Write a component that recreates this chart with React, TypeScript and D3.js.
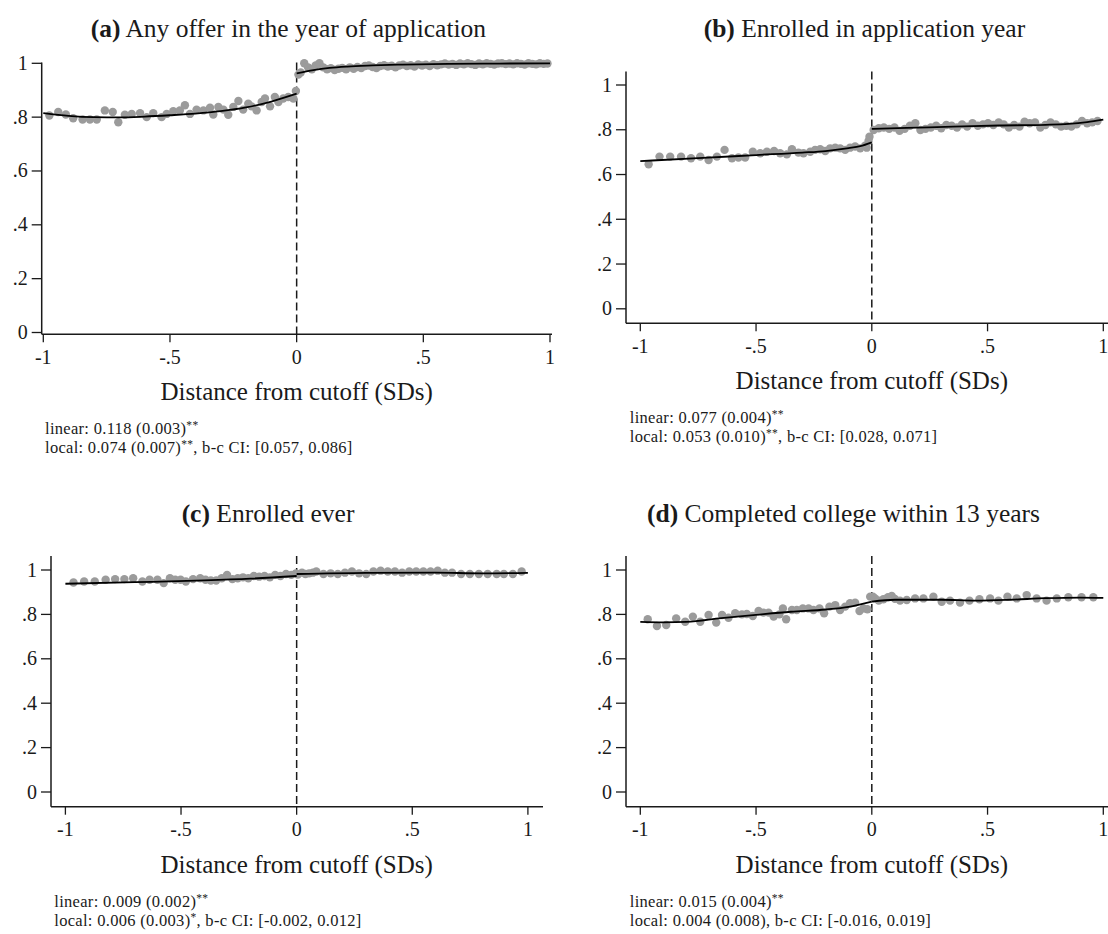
import React from "react";
import * as d3 from "d3";

// ---------- tick labels ----------
const xTickValues = [-1, -0.5, 0, 0.5, 1];
const xTickLabels = ["-1", "-.5", "0", ".5", "1"];
const yTickValues = [0, 0.2, 0.4, 0.6, 0.8, 1];
const yTickLabels = ["0", ".2", ".4", ".6", ".8", "1"];
const xAxisTitle = "Distance from cutoff (SDs)";

// ---------- panel (a) ----------
const aTitleLetter = "(a)";
const aTitle = " Any offer in the year of application";
const aLinear = ["linear: 0.118 (0.003)", "**", ""];
const aLocal = ["local: 0.074 (0.007)", "**", ", b-c CI: [0.057, 0.086]"];
const aLeftBinX = [-0.976,-0.941,-0.911,-0.882,-0.845,-0.816,-0.789,-0.757,-0.726,-0.704,-0.678,-0.651,-0.618,-0.592,-0.566,-0.533,-0.513,-0.487,-0.461,-0.441,-0.421,-0.395,-0.368,-0.342,-0.329,-0.309,-0.289,-0.270,-0.250,-0.230,-0.211,-0.191,-0.178,-0.158,-0.138,-0.125,-0.105,-0.086,-0.072,-0.053,-0.033,-0.013,-0.003];
const aLeftBinY = [0.806,0.819,0.810,0.796,0.791,0.791,0.791,0.825,0.819,0.781,0.809,0.812,0.815,0.800,0.815,0.800,0.812,0.822,0.825,0.844,0.812,0.828,0.825,0.835,0.810,0.838,0.828,0.809,0.838,0.860,0.828,0.850,0.840,0.825,0.856,0.869,0.840,0.875,0.856,0.869,0.875,0.869,0.897];
const aRightBinX = [0.007,0.016,0.030,0.045,0.060,0.075,0.090,0.105,0.120,0.135,0.150,0.165,0.180,0.195,0.210,0.225,0.240,0.255,0.270,0.285,0.300,0.315,0.330,0.345,0.360,0.375,0.390,0.405,0.420,0.435,0.450,0.465,0.480,0.495,0.510,0.525,0.540,0.555,0.570,0.585,0.600,0.615,0.630,0.645,0.660,0.675,0.690,0.705,0.720,0.735,0.750,0.765,0.780,0.795,0.810,0.825,0.840,0.855,0.870,0.885,0.900,0.915,0.930,0.945,0.960,0.975,0.990];
const aRightBinY = [0.958,0.966,1.000,0.985,0.978,0.992,1.000,0.985,0.978,0.982,0.975,0.980,0.983,0.978,0.985,0.980,0.986,0.982,0.990,0.992,0.986,0.982,0.990,0.993,0.988,0.991,0.985,0.992,0.995,0.990,0.993,0.988,0.996,0.992,0.995,0.990,0.997,0.993,0.996,0.999,0.995,0.998,0.994,0.999,0.996,1.000,0.997,0.994,0.999,0.996,1.000,0.998,0.995,0.999,1.000,0.997,0.999,0.996,1.000,0.998,0.995,1.000,0.998,0.996,1.000,0.998,0.999];
const aFitLeftX = [-1,-0.9,-0.8,-0.7,-0.6,-0.5,-0.4,-0.3,-0.2,-0.1,0];
const aFitLeftY = [0.815,0.805,0.800,0.799,0.802,0.807,0.813,0.822,0.836,0.858,0.887];
const aFitRightX = [0,0.066,0.13,0.2,0.3,0.4,0.6,0.8,1.0];
const aFitRightY = [0.963,0.975,0.983,0.988,0.992,0.995,0.998,0.999,1.0];

// ---------- panel (b) ----------
const bTitleLetter = "(b)";
const bTitle = " Enrolled in application year";
const bLinear = ["linear: 0.077 (0.004)", "**", ""];
const bLocal = ["local: 0.053 (0.010)", "**", ", b-c CI: [0.028, 0.071]"];
const bLeftBinX = [-0.964,-0.917,-0.871,-0.824,-0.781,-0.741,-0.705,-0.669,-0.636,-0.604,-0.576,-0.547,-0.514,-0.482,-0.453,-0.422,-0.396,-0.367,-0.345,-0.317,-0.295,-0.266,-0.245,-0.223,-0.201,-0.180,-0.158,-0.137,-0.115,-0.094,-0.072,-0.050,-0.029,-0.022,-0.014,-0.010];
const bLeftBinY = [0.646,0.680,0.680,0.680,0.673,0.680,0.665,0.680,0.710,0.673,0.676,0.676,0.702,0.695,0.702,0.705,0.695,0.690,0.713,0.698,0.695,0.702,0.710,0.713,0.705,0.717,0.720,0.717,0.710,0.720,0.725,0.717,0.729,0.720,0.750,0.769];
const bRightBinX = [0.008,0.030,0.052,0.075,0.098,0.120,0.142,0.165,0.188,0.210,0.232,0.255,0.278,0.300,0.322,0.345,0.368,0.390,0.412,0.435,0.458,0.480,0.502,0.525,0.548,0.570,0.592,0.615,0.638,0.660,0.682,0.705,0.728,0.750,0.772,0.795,0.818,0.840,0.862,0.885,0.908,0.930,0.952,0.975];
const bRightBinY = [0.799,0.807,0.810,0.804,0.810,0.795,0.804,0.818,0.829,0.799,0.804,0.810,0.818,0.807,0.821,0.818,0.810,0.824,0.814,0.829,0.818,0.824,0.829,0.821,0.833,0.824,0.810,0.821,0.814,0.836,0.829,0.833,0.810,0.821,0.833,0.824,0.814,0.818,0.814,0.824,0.839,0.829,0.833,0.839];
const bFitLeftX = [-1,-0.75,-0.5,-0.3,-0.2,-0.1,-0.05,0];
const bFitLeftY = [0.660,0.673,0.687,0.698,0.705,0.718,0.727,0.744];
const bFitRightX = [0,0.15,0.35,0.55,0.75,0.85,0.93,1.0];
const bFitRightY = [0.804,0.808,0.814,0.819,0.822,0.826,0.834,0.845];

// ---------- panel (c) ----------
const cTitleLetter = "(c)";
const cTitle = " Enrolled ever";
const cLinear = ["linear: 0.009 (0.002)", "**", ""];
const cLocal = ["local: 0.006 (0.003)", "*", ", b-c CI: [-0.002, 0.012]"];
const cLeftBinX = [-0.965,-0.919,-0.873,-0.826,-0.785,-0.745,-0.707,-0.667,-0.636,-0.602,-0.575,-0.548,-0.525,-0.502,-0.479,-0.448,-0.417,-0.394,-0.371,-0.348,-0.324,-0.301,-0.278,-0.255,-0.232,-0.209,-0.185,-0.162,-0.139,-0.116,-0.093,-0.070,-0.046,-0.023,-0.003];
const cLeftBinY = [0.944,0.948,0.948,0.956,0.959,0.959,0.963,0.948,0.956,0.956,0.941,0.963,0.956,0.956,0.948,0.959,0.963,0.956,0.953,0.953,0.963,0.978,0.959,0.963,0.967,0.963,0.973,0.970,0.973,0.967,0.978,0.973,0.982,0.978,0.985];
const cRightBinX = [0.005,0.023,0.038,0.054,0.070,0.085,0.116,0.147,0.178,0.209,0.239,0.270,0.301,0.332,0.363,0.394,0.425,0.456,0.487,0.517,0.548,0.579,0.610,0.641,0.672,0.711,0.749,0.788,0.826,0.865,0.896,0.935,0.973];
const cRightBinY = [0.980,0.988,0.982,0.985,0.988,0.993,0.982,0.985,0.982,0.988,0.993,0.985,0.982,0.993,0.997,0.993,0.993,0.988,0.993,0.993,0.993,0.993,0.997,0.988,0.988,0.982,0.982,0.982,0.982,0.982,0.982,0.982,0.993];
const cFitLeftX = [-1,-0.7,-0.4,-0.2,0];
const cFitLeftY = [0.938,0.945,0.953,0.961,0.973];
const cFitRightX = [0,0.3,0.6,0.8,1.0];
const cFitRightY = [0.982,0.987,0.988,0.985,0.987];

// ---------- panel (d) ----------
const dTitleLetter = "(d)";
const dTitle = " Completed college within 13 years";
const dLinear = ["linear: 0.015 (0.004)", "**", ""];
const dLocal = ["local: 0.004 (0.008), b-c CI: [-0.016, 0.019]", "", ""];
const dLeftBinX = [-0.968,-0.928,-0.888,-0.845,-0.806,-0.773,-0.741,-0.705,-0.672,-0.647,-0.619,-0.590,-0.561,-0.540,-0.514,-0.489,-0.468,-0.446,-0.424,-0.399,-0.384,-0.370,-0.345,-0.324,-0.298,-0.273,-0.252,-0.226,-0.206,-0.183,-0.158,-0.137,-0.115,-0.094,-0.072,-0.053,-0.036,-0.019,-0.007];
const dLeftBinY = [0.778,0.748,0.752,0.782,0.767,0.790,0.767,0.797,0.763,0.797,0.785,0.805,0.800,0.802,0.793,0.815,0.808,0.808,0.790,0.800,0.827,0.778,0.820,0.820,0.827,0.827,0.820,0.827,0.805,0.835,0.842,0.820,0.835,0.850,0.853,0.815,0.827,0.823,0.880];
const dRightBinX = [0.005,0.014,0.030,0.050,0.070,0.086,0.100,0.122,0.151,0.187,0.223,0.266,0.302,0.338,0.381,0.422,0.465,0.511,0.547,0.586,0.626,0.669,0.712,0.755,0.799,0.849,0.906,0.957];
const dRightBinY = [0.880,0.872,0.862,0.868,0.877,0.883,0.870,0.862,0.865,0.872,0.872,0.880,0.857,0.862,0.853,0.862,0.868,0.872,0.862,0.880,0.872,0.887,0.872,0.862,0.872,0.877,0.877,0.877];
const dFitLeftX = [-1,-0.9,-0.8,-0.65,-0.5,-0.35,-0.2,-0.1,0];
const dFitLeftY = [0.766,0.764,0.766,0.783,0.798,0.812,0.822,0.834,0.858];
const dFitRightX = [0,0.1,0.3,0.45,0.6,0.75,0.9,1.0];
const dFitRightY = [0.858,0.866,0.866,0.862,0.866,0.873,0.876,0.874];

// ---------- layout (pixel geometry, not data) ----------
type Layout = {
  xm1: number; xp1: number; y0: number; y1: number;
  yAxisX: number; yAxisTop: number; xAxisY: number; xAxisRight: number;
  titleX: number; titleY: number; notesX: number;
};
const layoutA: Layout = { xm1: 43.3, xp1: 550, y0: 332.5, y1: 63.3, yAxisX: 41.7, yAxisTop: 62.5, xAxisY: 334.3, xAxisRight: 552, titleX: 288.4, titleY: 37, notesX: 45 };
const layoutB: Layout = { xm1: 640.3, xp1: 1103.3, y0: 308.8, y1: 85, yAxisX: 626, yAxisTop: 71.5, xAxisY: 323.3, xAxisRight: 1118, titleX: 864.4, titleY: 37, notesX: 629.8 };
const layoutC: Layout = { xm1: 65.4, xp1: 527.9, y0: 792, y1: 570, yAxisX: 51, yAxisTop: 556, xAxisY: 806.7, xAxisRight: 543, titleX: 268, titleY: 521.5, notesX: 54.3 };
const layoutD: Layout = { xm1: 640.3, xp1: 1103.3, y0: 792, y1: 570, yAxisX: 626, yAxisTop: 556, xAxisY: 806.7, xAxisRight: 1118, titleX: 843.5, titleY: 521.5, notesX: 629.8 };

const FONT = "'Liberation Serif', 'Times New Roman', Times, serif";
const POINT = "#9b9b9b";
const INK = "#1a1a1a";

function zip(xs: number[], ys: number[]): [number, number][] {
  return xs.map((v, i) => [v, ys[i]] as [number, number]);
}

type PanelProps = {
  L: Layout;
  letter: string;
  title: string;
  linear: string[];
  local: string[];
  leftX: number[]; leftY: number[]; rightX: number[]; rightY: number[];
  fitLX: number[]; fitLY: number[]; fitRX: number[]; fitRY: number[];
};

function NoteLine({ x, y, parts }: { x: number; y: number; parts: string[] }) {
  return (
    <text x={x} y={y} fontFamily={FONT} fontSize={16.5} letterSpacing={0.3} fill={INK}>
      <tspan>{parts[0]}</tspan>
      {parts[1] ? (
        <tspan dy={-5} fontSize={11.5}>{parts[1]}</tspan>
      ) : null}
      {parts[1] ? <tspan dy={5}>{parts[2]}</tspan> : null}
    </text>
  );
}

function Panel(p: PanelProps) {
  const { L } = p;
  const x = d3.scaleLinear().domain([-1, 1]).range([L.xm1, L.xp1]);
  const y = d3.scaleLinear().domain([0, 1]).range([L.y0, L.y1]);
  const line = d3
    .line<[number, number]>()
    .x((d) => x(d[0]))
    .y((d) => y(d[1]))
    .curve(d3.curveMonotoneX);
  const pts = [...zip(p.leftX, p.leftY), ...zip(p.rightX, p.rightY)];
  const x0 = x(0);
  return (
    <g>
      <text x={L.titleX} y={L.titleY} textAnchor="middle" fontFamily={FONT} fontSize={25.5} fill={INK}>
        <tspan fontWeight="bold">{p.letter}</tspan>
        <tspan>{p.title}</tspan>
      </text>
      <line x1={x0} x2={x0} y1={L.yAxisTop} y2={L.xAxisY} stroke={INK} strokeWidth={1.5} strokeDasharray="8,4" />
      {pts.map((d, i) => (
        <circle key={i} cx={x(d[0])} cy={y(d[1])} r={4.2} fill={POINT} />
      ))}
      <path d={line(zip(p.fitLX, p.fitLY)) || ""} fill="none" stroke="#000" strokeWidth={1.8} />
      <path d={line(zip(p.fitRX, p.fitRY)) || ""} fill="none" stroke="#000" strokeWidth={1.8} />
      <line x1={L.yAxisX} x2={L.yAxisX} y1={L.yAxisTop} y2={L.xAxisY} stroke={INK} strokeWidth={1.5} />
      {yTickValues.map((v, i) => (
        <g key={"y" + i}>
          <line x1={L.yAxisX - 10} x2={L.yAxisX} y1={y(v)} y2={y(v)} stroke={INK} strokeWidth={1.3} />
          <text x={L.yAxisX - 14} y={y(v) + 6.5} textAnchor="end" fontFamily={FONT} fontSize={20} fill={INK}>
            {yTickLabels[i]}
          </text>
        </g>
      ))}
      <line x1={L.yAxisX} x2={L.xAxisRight} y1={L.xAxisY} y2={L.xAxisY} stroke={INK} strokeWidth={1.5} />
      {xTickValues.map((v, i) => (
        <g key={"x" + i}>
          <line x1={x(v)} x2={x(v)} y1={L.xAxisY} y2={L.xAxisY + 8} stroke={INK} strokeWidth={1.3} />
          <text x={x(v)} y={L.xAxisY + 29.5} textAnchor="middle" fontFamily={FONT} fontSize={20} fill={INK}>
            {xTickLabels[i]}
          </text>
        </g>
      ))}
      <text x={x0} y={L.xAxisY + 66} textAnchor="middle" fontFamily={FONT} fontSize={25} fill={INK}>
        {xAxisTitle}
      </text>
      <NoteLine x={L.notesX} y={L.xAxisY + 100} parts={p.linear} />
      <NoteLine x={L.notesX} y={L.xAxisY + 119} parts={p.local} />
    </g>
  );
}

export default function App() {
  return (
    <svg
      width={1108}
      height={934}
      viewBox="0 0 1108 934"
      style={{ position: "absolute", left: 0, top: 0, background: "#fff" }}
    >
      <rect x={0} y={0} width={1108} height={934} fill="#fff" />
      <Panel L={layoutA} letter={aTitleLetter} title={aTitle} linear={aLinear} local={aLocal}
        leftX={aLeftBinX} leftY={aLeftBinY} rightX={aRightBinX} rightY={aRightBinY}
        fitLX={aFitLeftX} fitLY={aFitLeftY} fitRX={aFitRightX} fitRY={aFitRightY} />
      <Panel L={layoutB} letter={bTitleLetter} title={bTitle} linear={bLinear} local={bLocal}
        leftX={bLeftBinX} leftY={bLeftBinY} rightX={bRightBinX} rightY={bRightBinY}
        fitLX={bFitLeftX} fitLY={bFitLeftY} fitRX={bFitRightX} fitRY={bFitRightY} />
      <Panel L={layoutC} letter={cTitleLetter} title={cTitle} linear={cLinear} local={cLocal}
        leftX={cLeftBinX} leftY={cLeftBinY} rightX={cRightBinX} rightY={cRightBinY}
        fitLX={cFitLeftX} fitLY={cFitLeftY} fitRX={cFitRightX} fitRY={cFitRightY} />
      <Panel L={layoutD} letter={dTitleLetter} title={dTitle} linear={dLinear} local={dLocal}
        leftX={dLeftBinX} leftY={dLeftBinY} rightX={dRightBinX} rightY={dRightBinY}
        fitLX={dFitLeftX} fitLY={dFitLeftY} fitRX={dFitRightX} fitRY={dFitRightY} />
    </svg>
  );
}
